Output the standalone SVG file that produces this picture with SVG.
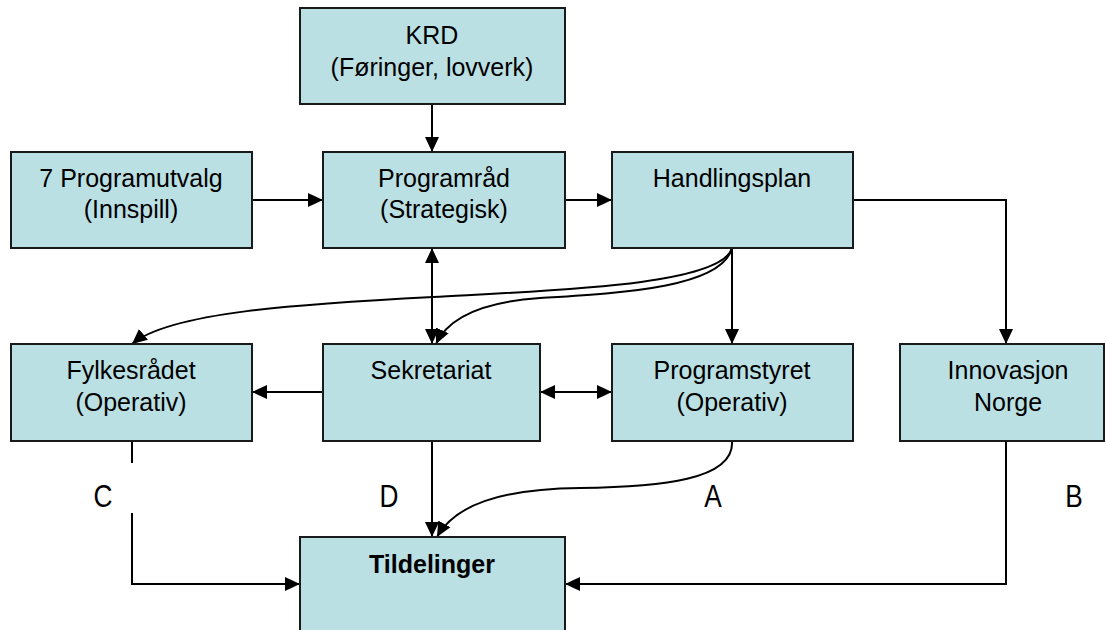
<svg xmlns="http://www.w3.org/2000/svg" width="1106" height="630" viewBox="0 0 1106 630">
<defs>
<style>
.box{fill:#BBE0E3;stroke:#1a1a1a;stroke-width:2}
.t{font-family:"Liberation Sans",Arial,sans-serif;font-size:25px;fill:#000;text-anchor:middle}
.b{font-weight:bold}
.lbl{font-family:"Liberation Sans",Arial,sans-serif;font-size:32px;fill:#000;text-anchor:middle}
.c{fill:none;stroke:#000;stroke-width:2}
</style>
<marker id="ah" markerUnits="userSpaceOnUse" markerWidth="16" markerHeight="16" viewBox="0 0 16 16" refX="15" refY="8" orient="auto-start-reverse">
<path d="M0,1 L15,8 L0,15 z" fill="#000"/>
</marker>
</defs>
<rect width="1106" height="630" fill="#fff"/>

<g id="connectors">
<path class="c" d="M432,104 V152" marker-end="url(#ah)"/>
<path class="c" d="M252,200 H323" marker-end="url(#ah)"/>
<path class="c" d="M565,200 H612" marker-end="url(#ah)"/>
<path class="c" d="M853,200 H1006 V344" marker-end="url(#ah)"/>
<path class="c" d="M732,248 V344" marker-end="url(#ah)"/>
<path class="c" d="M432,248 V344" marker-start="url(#ah)" marker-end="url(#ah)"/>
<path class="c" d="M732,248 C722,285 560,290 433,297 C300,304 170,312 132,344" marker-end="url(#ah)"/>
<path class="c" d="M732,248 C722,288 620,293 540,298 C480,302 448,318 436,344" marker-end="url(#ah)"/>
<path class="c" d="M323,392 H252" marker-end="url(#ah)"/>
<path class="c" d="M540,392 H612" marker-start="url(#ah)" marker-end="url(#ah)"/>
<path class="c" d="M432,441 V537" marker-end="url(#ah)"/>
<path class="c" d="M732,441 C735,480 660,487 580,488 C500,489 455,505 437,537" marker-end="url(#ah)"/>
<path class="c" d="M132,441 V463"/>
<path class="c" d="M132,513 V584 H300" marker-end="url(#ah)"/>
<path class="c" d="M1006,441 V584 H565" marker-end="url(#ah)"/>
</g>

<g id="krd">
<rect class="box" x="300" y="8" width="265" height="96"/>
<text class="t" x="432" y="44">KRD</text>
<text class="t" x="432" y="76">(Føringer, lovverk)</text>
</g>
<g id="programutvalg">
<rect class="box" x="11" y="152" width="241" height="96"/>
<text class="t" x="131" y="187">7 Programutvalg</text>
<text class="t" x="131" y="218">(Innspill)</text>
</g>
<g id="programraad">
<rect class="box" x="323" y="152" width="242" height="96"/>
<text class="t" x="444" y="187">Programråd</text>
<text class="t" x="444" y="218">(Strategisk)</text>
</g>
<g id="handlingsplan">
<rect class="box" x="612" y="152" width="241" height="96"/>
<text class="t" x="732" y="187">Handlingsplan</text>
</g>
<g id="fylkesraadet">
<rect class="box" x="11" y="344" width="241" height="97"/>
<text class="t" x="131" y="379">Fylkesrådet</text>
<text class="t" x="131" y="411">(Operativ)</text>
</g>
<g id="sekretariat">
<rect class="box" x="323" y="344" width="217" height="97"/>
<text class="t" x="431" y="379">Sekretariat</text>
</g>
<g id="programstyret">
<rect class="box" x="612" y="344" width="241" height="97"/>
<text class="t" x="732" y="379">Programstyret</text>
<text class="t" x="732" y="411">(Operativ)</text>
</g>
<g id="innovasjon">
<rect class="box" x="900" y="344" width="204" height="97"/>
<text class="t" x="1008" y="379">Innovasjon</text>
<text class="t" x="1008" y="411">Norge</text>
</g>
<g id="tildelinger">
<rect class="box" x="300" y="537" width="265" height="110"/>
<text class="t b" x="432" y="573">Tildelinger</text>
</g>

<g id="labels">
<text class="lbl" transform="translate(103,507) scale(0.82,1)">C</text>
<text class="lbl" transform="translate(389,507) scale(0.82,1)">D</text>
<text class="lbl" transform="translate(713,507) scale(0.82,1)">A</text>
<text class="lbl" transform="translate(1074,507) scale(0.82,1)">B</text>
</g>
</svg>
